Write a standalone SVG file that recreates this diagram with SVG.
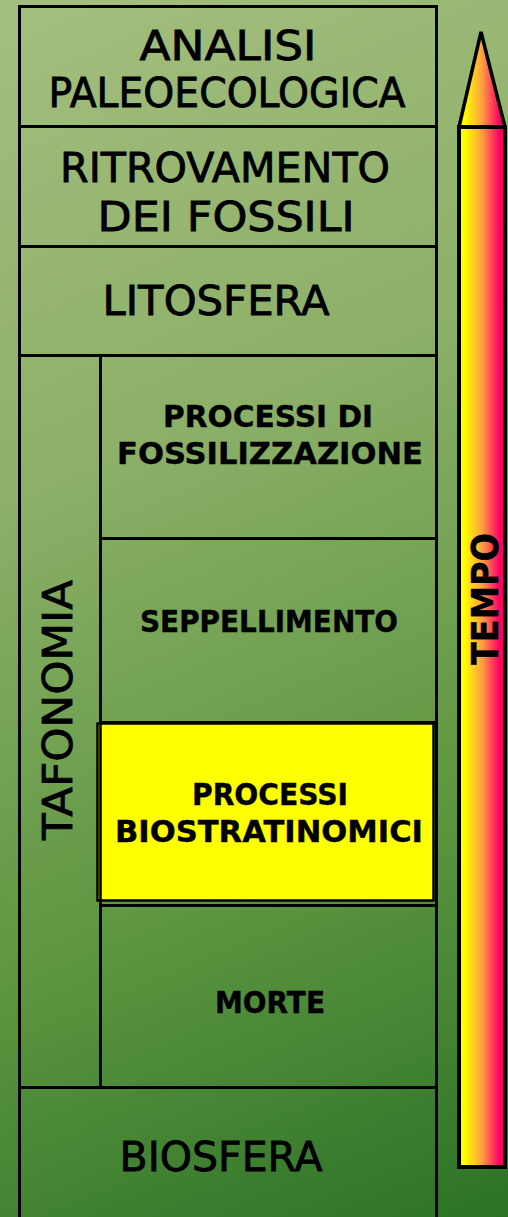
<svg xmlns="http://www.w3.org/2000/svg" width="508" height="1217" viewBox="0 0 508 1217">
<defs>
<linearGradient id="bg" gradientUnits="userSpaceOnUse" x1="0" y1="0" x2="508" y2="1217">
<stop offset="0" stop-color="#a4be7e"/>
<stop offset="0.35" stop-color="#8cb068"/>
<stop offset="0.7" stop-color="#5c953f"/>
<stop offset="1" stop-color="#2b7226"/>
</linearGradient>
<linearGradient id="pencil" x1="0" y1="0" x2="1" y2="0">
<stop offset="0.12" stop-color="#ffff00"/>
<stop offset="0.5" stop-color="#ffa040"/>
<stop offset="0.88" stop-color="#ff0066"/>
</linearGradient>
<style>
.ln{stroke:#000;stroke-width:3;fill:none;stroke-linecap:square}
.t{font-family:"DejaVu Sans","Liberation Sans",sans-serif;font-size:40px;fill:#000;stroke:#000;stroke-width:0.8px;text-anchor:middle}
.b{font-family:"DejaVu Sans","Liberation Sans",sans-serif;font-size:30px;font-weight:bold;fill:#000;stroke:#000;stroke-width:0.4px;text-anchor:middle}
</style>
</defs>
<rect x="0" y="0" width="508" height="1217" fill="url(#bg)"/>

<g id="frame" class="ln">
<path d="M19.5 1220 V6.5 H436.5 V1220"/>
<path d="M19.5 126.5 H436.5"/>
<path d="M19.5 246.5 H436.5"/>
<path d="M19.5 355.5 H436.5"/>
<path d="M100.5 355.5 V1087.5"/>
<path d="M100.5 538.5 H436.5"/>
<path d="M100.5 722.5 H436.5"/>
<path d="M100.5 905.5 H436.5"/>
<path d="M19.5 1087.5 H436.5"/>
</g>

<g id="analisi">
<text class="t" x="228" y="60" textLength="177" lengthAdjust="spacingAndGlyphs">ANALISI</text>
<text class="t" x="227" y="107" textLength="357" lengthAdjust="spacingAndGlyphs">PALEOECOLOGICA</text>
</g>
<g id="ritrovamento">
<text class="t" x="225" y="182" textLength="330" lengthAdjust="spacingAndGlyphs">RITROVAMENTO</text>
<text class="t" x="226" y="231" textLength="257" lengthAdjust="spacingAndGlyphs">DEI FOSSILI</text>
</g>
<g id="litosfera">
<text class="t" x="216" y="315" textLength="227" lengthAdjust="spacingAndGlyphs">LITOSFERA</text>
</g>
<g id="tafonomia">
<text class="t" transform="translate(72 710) rotate(-90)" x="0" y="0" textLength="260" lengthAdjust="spacingAndGlyphs">TAFONOMIA</text>
</g>
<g id="fossilizzazione">
<text class="b" x="268" y="427" textLength="210" lengthAdjust="spacingAndGlyphs">PROCESSI DI</text>
<text class="b" x="270" y="464" textLength="306" lengthAdjust="spacingAndGlyphs">FOSSILIZZAZIONE</text>
</g>
<g id="seppellimento">
<text class="b" x="269" y="632" textLength="258" lengthAdjust="spacingAndGlyphs">SEPPELLIMENTO</text>
</g>
<g id="biostratinomici">
<rect x="97.5" y="723.5" width="336" height="177" fill="#ffff00" stroke="#000" stroke-width="2.5"/>
<line x1="100.5" y1="723" x2="100.5" y2="901" stroke="#000" stroke-width="2.5"/>
<text class="b" x="270" y="805" textLength="156" lengthAdjust="spacingAndGlyphs">PROCESSI</text>
<text class="b" x="269" y="842" textLength="308" lengthAdjust="spacingAndGlyphs">BIOSTRATINOMICI</text>
</g>
<g id="morte">
<text class="b" x="270" y="1013" textLength="110" lengthAdjust="spacingAndGlyphs">MORTE</text>
</g>
<g id="biosfera">
<text class="t" x="221" y="1171" textLength="203" lengthAdjust="spacingAndGlyphs">BIOSFERA</text>
</g>

<g id="tempo">
<path d="M459 127 L481 32 L505 127 Z" fill="url(#pencil)" stroke="#000" stroke-width="3.5" stroke-linejoin="miter"/>
<rect x="459" y="127" width="46" height="1040" fill="url(#pencil)" stroke="#000" stroke-width="4"/>
<text class="b" transform="translate(498 599) rotate(-90)" x="0" y="0" style="font-size:38px" textLength="132" lengthAdjust="spacingAndGlyphs">TEMPO</text>
</g>
</svg>
